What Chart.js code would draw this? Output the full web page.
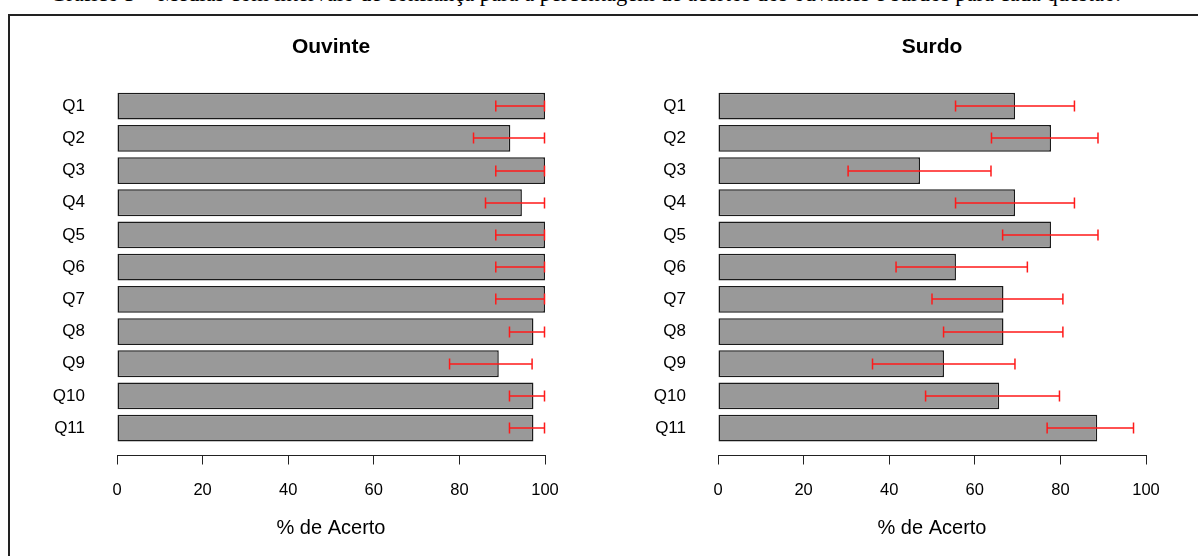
<!DOCTYPE html>
<html lang="pt">
<head>
<meta charset="utf-8">
<title>Médias com intervalo de confiança</title>
<script src="https://cdn.jsdelivr.net/npm/chart.js@4/dist/chart.umd.min.js"></script>
<style>
  html, body { margin: 0; padding: 0; background: #fff; width: 1198px; height: 556px; overflow: hidden; }
  #caption {
    position: absolute; left: 50px; top: -19.2px;
    font-family: "Liberation Serif", "Times New Roman", serif; font-size: 22.5px;
    white-space: nowrap; color: #000;
  }
  #frame {
    position: absolute; left: 8px; top: 14px; width: 1200px; height: 560px;
    border-left: 2px solid #222; border-top: 2px solid #222;
  }
  canvas.panel { position: absolute; top: 0; }
</style>
</head>
<body>
<div id="caption">Gráfico 3 – Médias com intervalo de confiança para a percentagem de acertos dos ouvintes e surdos para cada questão.</div>
<div id="frame"></div>
<canvas id="ouvinte" class="panel" width="600" height="556" style="left:0"></canvas>
<canvas id="surdo" class="panel" width="598" height="556" style="left:600px"></canvas>
<script>
// Questões (de cima para baixo)
const questions = ['Q1', 'Q2', 'Q3', 'Q4', 'Q5', 'Q6', 'Q7', 'Q8', 'Q9', 'Q10', 'Q11'];

// Ouvintes: média e intervalo de confiança (% de acerto)
const ouvinteMean  = [100, 91.9, 100, 94.6, 100, 100, 100, 97.3, 89.2, 97.3, 97.3];
const ouvinteLower = [88.5, 83.3, 88.5, 86.1, 88.5, 88.5, 88.5, 91.7, 77.7, 91.7, 91.7];
const ouvinteUpper = [100, 100, 100, 100, 100, 100, 100, 100, 97.1, 100, 100];

// Surdos: média e intervalo de confiança (% de acerto)
const surdoMean  = [69.4, 77.8, 47.2, 69.4, 77.8, 55.6, 66.7, 66.7, 52.8, 65.7, 88.6];
const surdoLower = [55.5, 63.9, 30.4, 55.5, 66.5, 41.6, 50.0, 52.7, 36.1, 48.5, 76.9];
const surdoUpper = [83.4, 88.9, 63.9, 83.4, 88.9, 72.4, 80.7, 80.7, 69.5, 79.9, 97.2];

// Eixo horizontal
const xTicks = [0, 20, 40, 60, 80, 100];
const axisTitle = '% de Acerto';

const FONT = '"Liberation Sans", Arial, Helvetica, sans-serif';

// Barras com largura 1 e espaço 0.2 entre elas (estilo barplot)
const barPos = questions.map((q, i) => 0.7 + 1.2 * i);

function makePanel(id, title, means, lower, upper, axisLeft, padRight) {
  const errorBars = {
    id: 'errorBars',
    afterDatasetsDraw(chart) {
      const { ctx, scales: { x, y } } = chart;
      ctx.save();
      ctx.strokeStyle = '#ff1a1a';
      ctx.lineWidth = 1.5;
      lower.forEach((lo, i) => {
        const py = Math.round(y.getPixelForValue(barPos[i]));
        const x1 = x.getPixelForValue(lo);
        const x2 = x.getPixelForValue(upper[i]) - 0.5;
        ctx.beginPath();
        ctx.moveTo(x1, py); ctx.lineTo(x2, py);
        ctx.moveTo(x1, py - 5.5); ctx.lineTo(x1, py + 5.5);
        ctx.moveTo(x2, py - 5.5); ctx.lineTo(x2, py + 5.5);
        ctx.stroke();
      });
      ctx.restore();
    }
  };

  const titles = {
    id: 'panelTitles',
    afterDraw(chart) {
      const { ctx, chartArea } = chart;
      const cx = (chartArea.left + chartArea.right) / 2;
      ctx.save();
      ctx.fillStyle = '#000';
      ctx.textAlign = 'center';
      ctx.textBaseline = 'middle';
      ctx.font = 'bold 21px ' + FONT;
      ctx.fillText(title, cx, 47);
      ctx.font = '20px ' + FONT;
      ctx.fillText(axisTitle, cx, 528);
      ctx.restore();
    }
  };

  return new Chart(document.getElementById(id), {
    type: 'bar',
    data: {
      datasets: [{
        data: means.map((v, i) => ({ x: v, y: barPos[i] })),
        backgroundColor: '#999999',
        borderColor: '#1a1a1a',
        borderWidth: 1.5,
        borderSkipped: false,
        categoryPercentage: 1,
        barPercentage: 1 / 1.2
      }]
    },
    options: {
      indexAxis: 'y',
      responsive: false,
      animation: false,
      events: [],
      layout: { padding: { top: 78.8, right: padRight, bottom: 0, left: 0 } },
      plugins: { legend: { display: false }, tooltip: { enabled: false } },
      scales: {
        x: {
          type: 'linear', position: 'bottom', min: 0, max: 100, offset: false,
          afterFit(s) { s.height = 100.5; },
          afterBuildTicks(s) { s.ticks = xTicks.map(v => ({ value: v })); },
          grid: { drawOnChartArea: false, drawTicks: true, tickLength: 9, color: '#222', lineWidth: 1 },
          border: { display: true, color: '#222', width: 1 },
          ticks: { color: '#000', font: { family: FONT, size: 16.5 }, padding: 16, maxRotation: 0, autoSkip: false }
        },
        y: {
          type: 'linear', reverse: true, min: -0.32, max: 13.72, offset: false,
          afterFit(s) { s.width = axisLeft; },
          afterBuildTicks(s) { s.ticks = barPos.map(v => ({ value: v })); },
          grid: { display: false },
          border: { display: false },
          ticks: {
            color: '#000', font: { family: FONT, size: 17 }, padding: 24, autoSkip: false,
            callback: (v, i) => questions[i]
          }
        }
      }
    },
    plugins: [errorBars, titles]
  });
}

makePanel('ouvinte', 'Ouvinte', ouvinteMean, ouvinteLower, ouvinteUpper, 117, 55);
makePanel('surdo', 'Surdo', surdoMean, surdoLower, surdoUpper, 118, 52);
</script>
</body>
</html>
